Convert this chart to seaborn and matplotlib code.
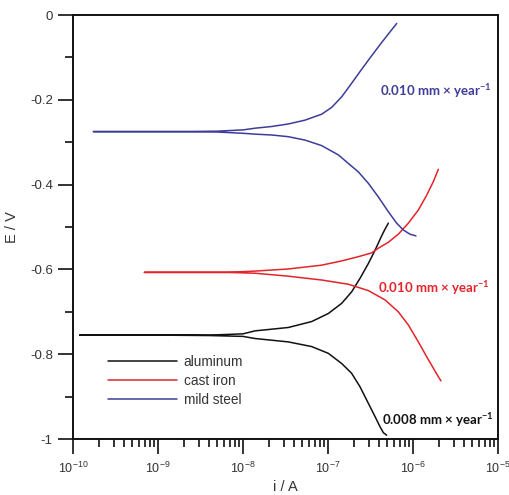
import numpy as np
import pandas as pd
import matplotlib
matplotlib.use("Agg")
import matplotlib.pyplot as plt
import matplotlib.ticker as mticker
import seaborn as sns

# Tafel polarisation curves: log10 of current (A) and potential (V),
# each traced from the cathodic end, through E_corr, to the anodic end.
metals = ["aluminum", "cast iron", "mild steel"]

al_log_i = [-6.310, -6.349, -6.388, -6.447, -6.525, -6.623, -6.722, -6.839, -6.996, -7.192, -7.467,
            -7.859, -8.0, -8.4, -9.0, -9.92,
            -9.0, -8.4, -8.0, -7.859, -7.467, -7.192, -6.996, -6.839, -6.722, -6.623, -6.525,
            -6.447, -6.408, -6.369, -6.329, -6.290]
al_E = [-0.991, -0.985, -0.971, -0.947, -0.916, -0.877, -0.845, -0.822, -0.798, -0.782, -0.771,
        -0.763, -0.758, -0.756, -0.755, -0.755,
        -0.755, -0.755, -0.752, -0.745, -0.737, -0.723, -0.704, -0.680, -0.653, -0.621, -0.586,
        -0.555, -0.538, -0.521, -0.505, -0.491]

fe_log_i = [-5.671, -5.702, -5.761, -5.839, -5.937, -6.055, -6.173, -6.329, -6.525, -6.761, -7.075,
            -7.467, -7.859, -8.2, -9.16,
            -8.2, -7.859, -7.467, -7.075, -6.839, -6.643, -6.486, -6.408, -6.290, -6.173, -6.055,
            -5.937, -5.839, -5.761, -5.702]
fe_E = [-0.863, -0.853, -0.833, -0.806, -0.771, -0.731, -0.700, -0.672, -0.650, -0.635, -0.625,
        -0.616, -0.609, -0.607, -0.607,
        -0.607, -0.604, -0.599, -0.590, -0.580, -0.570, -0.561, -0.550, -0.536, -0.517, -0.491,
        -0.460, -0.425, -0.393, -0.364]

st_log_i = [-5.965, -6.035, -6.114, -6.192, -6.290, -6.408, -6.525, -6.643, -6.761, -6.878, -7.075,
            -7.271, -7.467, -7.663, -7.859, -8.0, -8.3, -8.8, -9.76,
            -8.8, -8.3, -8.0, -7.859, -7.663, -7.467, -7.271, -7.075, -6.957, -6.839, -6.722,
            -6.604, -6.486, -6.369, -6.271, -6.192]
st_E = [-0.521, -0.517, -0.507, -0.491, -0.464, -0.429, -0.397, -0.370, -0.350, -0.330, -0.308,
        -0.295, -0.287, -0.283, -0.281, -0.279, -0.276, -0.275, -0.275,
        -0.275, -0.274, -0.271, -0.267, -0.263, -0.257, -0.248, -0.234, -0.218, -0.193, -0.161,
        -0.128, -0.096, -0.065, -0.040, -0.020]

corrosion_rates = ["0.008", "0.010", "0.010"]
xtick_exps = [-10, -9, -8, -7, -6, -5]
ytick_vals = [0, -0.2, -0.4, -0.6, -0.8, -1]
ytick_labels = ["0", "-0.2", "-0.4", "-0.6", "-0.8", "-1"]

colors = {"aluminum": "#111111", "cast iron": "#e3242b", "mild steel": "#3d3d99"}

frames = []
for name, li, e in zip(metals, [al_log_i, fe_log_i, st_log_i], [al_E, fe_E, st_E]):
    frames.append(pd.DataFrame({"metal": name, "i": 10.0 ** np.array(li), "E": e}))
df = pd.concat(frames, ignore_index=True)

sns.set_theme(style="ticks")
plt.rcParams["font.family"] = ["Liberation Sans", "DejaVu Sans"]
plt.rcParams["mathtext.fontset"] = "custom"
plt.rcParams["mathtext.rm"] = "Liberation Sans"
plt.rcParams["mathtext.bf"] = "Lato:bold"
plt.rcParams["axes.unicode_minus"] = False

fig = plt.figure(figsize=(5.10, 4.95), dpi=100)
ax = fig.add_axes([73 / 510, 1 - 439 / 495, (498 - 73) / 510, (439 - 15) / 495])

sns.lineplot(data=df, x="i", y="E", hue="metal", hue_order=metals, palette=colors,
             units="metal", estimator=None, sort=False, linewidth=1.1, ax=ax)

ax.set_xscale("log")
ax.set_xlim(1e-10, 1e-5)
ax.set_ylim(-1, 0)

ax.xaxis.set_major_locator(mticker.FixedLocator([10.0 ** k for k in xtick_exps]))
ax.xaxis.set_major_formatter(mticker.FixedFormatter(
    [r"$\mathregular{10^{%d}}$" % k for k in xtick_exps]))
ax.xaxis.set_minor_locator(mticker.LogLocator(base=10, subs=np.arange(2, 10), numticks=20))
ax.xaxis.set_minor_formatter(mticker.NullFormatter())

ax.yaxis.set_major_locator(mticker.FixedLocator(ytick_vals))
ax.yaxis.set_major_formatter(mticker.FixedFormatter(ytick_labels))
ax.yaxis.set_minor_locator(mticker.MultipleLocator(0.1))

for side in ["left", "right", "top", "bottom"]:
    ax.spines[side].set_visible(True)
    ax.spines[side].set_linewidth(1.4)
    ax.spines[side].set_color("#111111")

ax.tick_params(axis="both", which="major", direction="out", length=10.5, width=1.2,
               color="#111111", labelcolor="#333333")
ax.tick_params(axis="x", which="major", pad=5, labelsize=9)
ax.tick_params(axis="y", which="major", pad=4, labelsize=9.5)
ax.tick_params(axis="both", which="minor", direction="out", length=5.5, width=1.2,
               color="#111111")
ax.tick_params(top=False, right=False, which="both")

ax.set_xlabel("i / A", fontsize=10.5, color="#333333", labelpad=3)
ax.set_ylabel("E / V", fontsize=10.5, color="#333333", labelpad=8)

leg = ax.legend(loc="upper left", bbox_to_anchor=(0.053, 0.227), frameon=False,
                fontsize=9.8, handlelength=5.07, handletextpad=0.5, labelspacing=0.37)
for t in leg.get_texts():
    t.set_color("#333333")

# corrosion rate annotations next to each curve
label_pos = {"mild steel": (0.722, 0.821), "cast iron": (0.718, 0.357), "aluminum": (0.727, 0.045)}
for name, rate in zip(metals, corrosion_rates):
    x, y = label_pos[name]
    ax.text(x, y, rate + r" mm × year$^{\mathbf{-1}}$", transform=ax.transAxes,
            fontfamily="Lato", fontweight="bold", fontsize=9.5, color=colors[name],
            ha="left", va="center")

fig.savefig("out.png", dpi=100)
